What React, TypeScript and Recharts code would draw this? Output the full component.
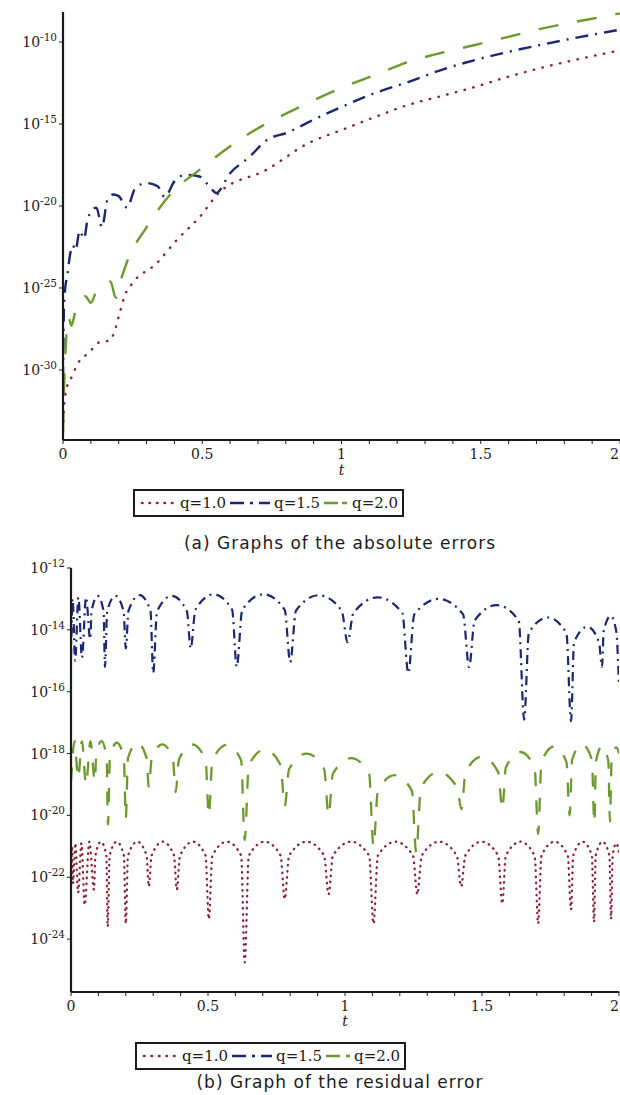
import { Label, Line, LineChart, XAxis, YAxis } from 'recharts';

// exponents (log10 of the error)
const X_TICKS = [0, 0.1, 0.2, 0.3, 0.4, 0.5, 0.6, 0.7, 0.8, 0.9, 1, 1.1, 1.2, 1.3, 1.4, 1.5, 1.6, 1.7, 1.8, 1.9, 2];
const X_LABELS = [0, 0.5, 1, 1.5, 2];
const ABS_Y_TICKS = [-30, -25, -20, -15, -10];
const RES_Y_TICKS = [-24, -22, -20, -18, -16, -14, -12];
const SERIES_NAMES = ['q=1.0', 'q=1.5', 'q=2.0'];
const CAPTIONS = ['(a) Graphs of the absolute errors', '(b) Graph of the residual error'];

type Pt = [number, number];

const ABS_Q10: Pt[] = [
  [0, -33.7], [0.005, -32], [0.015, -31], [0.032, -30.4], [0.05, -29.7], [0.096, -28.9],
  [0.132, -28.3], [0.168, -28.2], [0.186, -27.6], [0.204, -26.5], [0.221, -25.5], [0.25, -24.7],
  [0.336, -23.5], [0.407, -22.1], [0.489, -20.7], [0.56, -19.2], [0.73, -17.8], [0.882, -16.16],
  [1.0, -15.37], [1.121, -14.57], [1.239, -13.84], [1.357, -13.3], [1.479, -12.74], [1.596, -12.13],
  [1.714, -11.59], [1.836, -11.1], [1.954, -10.67], [2.0, -10.5],
];

const ABS_Q15: Pt[] = [
  [0, -30.6], [0.003, -26.5], [0.008, -25], [0.015, -24.3], [0.025, -23], [0.035, -22.4],
  [0.045, -22.7], [0.06, -21.5], [0.075, -22], [0.09, -20.7], [0.12, -20.1], [0.14, -21.3],
  [0.16, -19.6], [0.18, -19.3], [0.2, -19.4], [0.23, -20.1], [0.26, -18.9], [0.3, -18.6],
  [0.34, -18.8], [0.365, -19.45], [0.4, -18.5], [0.44, -18.1], [0.49, -18.2], [0.53, -18.9],
  [0.55, -19.2], [0.6, -18.0], [0.67, -17.0], [0.73, -16.0], [0.81, -15.5], [0.88, -14.9],
  [1.0, -13.96], [1.121, -13.11], [1.239, -12.44], [1.357, -11.71], [1.479, -11.1], [1.596, -10.61],
  [1.714, -10.18], [1.836, -9.76], [1.954, -9.39], [2.0, -9.25],
];

const ABS_Q20: Pt[] = [
  [0, -33.8], [0.004, -31], [0.01, -28.5], [0.02, -26.8], [0.03, -27.3], [0.045, -26.4],
  [0.06, -26.0], [0.08, -25.5], [0.1, -25.9], [0.12, -25.2], [0.15, -24.9], [0.17, -24.6],
  [0.19, -25.6], [0.21, -24.4], [0.23, -23.4], [0.3, -21.3], [0.39, -19.2], [0.49, -17.8],
  [0.63, -16.0], [0.88, -13.72], [1.0, -12.8], [1.121, -12.0], [1.239, -11.22], [1.357, -10.67],
  [1.479, -10.18], [1.596, -9.7], [1.714, -9.2], [1.836, -8.78], [1.954, -8.41], [2.0, -8.25],
];

const RES_Q10: Pt[] = [
  [0, -22.3], [0.004, -21.0], [0.007, -22.2], [0.016, -20.9], [0.026, -22.5], [0.038, -20.9],
  [0.05, -22.9], [0.067, -20.85], [0.084, -22.4], [0.089, -21.3], [0.109, -20.85], [0.129, -21.3],
  [0.134, -23.6], [0.141, -21.3], [0.167, -20.85], [0.193, -21.3], [0.2, -23.5], [0.208, -21.3],
  [0.242, -20.85], [0.276, -21.3], [0.284, -22.3], [0.294, -21.3], [0.335, -20.85], [0.376, -21.3],
  [0.386, -22.4], [0.398, -21.3], [0.445, -20.85], [0.491, -21.3], [0.503, -23.35], [0.516, -21.3],
  [0.569, -20.85], [0.621, -21.3], [0.634, -24.75], [0.649, -21.3], [0.707, -20.85], [0.765, -21.3],
  [0.78, -22.7], [0.796, -21.3], [0.86, -20.85], [0.924, -21.3], [0.94, -22.55], [0.956, -21.3],
  [1.022, -20.85], [1.088, -21.3], [1.104, -23.5], [1.12, -21.3], [1.184, -20.85], [1.248, -21.3],
  [1.264, -22.55], [1.28, -21.3], [1.344, -20.85], [1.408, -21.3], [1.424, -22.3], [1.439, -21.3],
  [1.499, -20.85], [1.559, -21.3], [1.574, -22.85], [1.587, -21.3], [1.64, -20.85], [1.692, -21.3],
  [1.705, -23.5], [1.717, -21.3], [1.765, -20.85], [1.813, -21.3], [1.825, -23.05], [1.833, -21.3],
  [1.867, -20.85], [1.901, -21.3], [1.909, -23.45], [1.915, -21.3], [1.94, -20.85], [1.965, -21.3],
  [1.971, -23.35], [1.977, -21.3], [1.99, -20.9], [2.0, -21.2],
];

const RES_Q15: Pt[] = [
  [0, -14.9], [0.006, -13.0], [0.015, -15.0], [0.027, -12.95], [0.04, -14.9], [0.055, -12.95],
  [0.07, -14.3], [0.075, -13.4], [0.097, -12.9], [0.119, -13.4], [0.124, -15.2], [0.132, -13.4],
  [0.162, -12.9], [0.192, -13.4], [0.2, -14.6], [0.21, -13.38], [0.25, -12.88], [0.29, -13.38],
  [0.3, -15.4], [0.314, -13.4], [0.368, -12.9], [0.423, -13.4], [0.437, -14.6], [0.454, -13.35],
  [0.521, -12.85], [0.588, -13.35], [0.605, -15.2], [0.625, -13.35], [0.702, -12.85], [0.78, -13.35],
  [0.8, -15.05], [0.821, -13.38], [0.904, -12.88], [0.988, -13.38], [1.009, -14.4], [1.031, -13.45],
  [1.12, -12.95], [1.209, -13.45], [1.231, -15.4], [1.253, -13.5], [1.342, -13.0], [1.431, -13.5],
  [1.453, -15.2], [1.473, -13.7], [1.553, -13.2], [1.634, -13.7], [1.654, -16.9], [1.671, -14.1],
  [1.74, -13.6], [1.808, -14.1], [1.825, -16.95], [1.836, -14.4], [1.885, -13.9], [1.927, -14.4],
  [1.938, -15.2], [1.944, -14.05], [1.97, -13.55], [1.99, -14.05], [2.0, -15.8],
];

const RES_Q20: Pt[] = [
  [0, -18.9], [0.013, -17.6], [0.026, -18.8], [0.04, -17.6], [0.055, -19.0], [0.071, -17.6],
  [0.087, -18.9], [0.092, -18.1], [0.111, -17.6], [0.13, -18.1], [0.135, -20.3], [0.142, -18.15],
  [0.167, -17.65], [0.193, -18.15], [0.2, -20.1], [0.208, -18.15], [0.242, -17.65], [0.276, -18.15],
  [0.284, -19.1], [0.294, -18.2], [0.333, -17.7], [0.372, -18.2], [0.382, -19.25], [0.394, -18.2],
  [0.442, -17.7], [0.491, -18.2], [0.503, -20.0], [0.516, -18.22], [0.569, -17.72], [0.621, -18.22],
  [0.634, -20.8], [0.649, -18.37], [0.707, -17.87], [0.765, -18.37], [0.78, -19.7], [0.796, -18.5],
  [0.86, -18.0], [0.924, -18.5], [0.94, -20.0], [0.956, -18.65], [1.022, -18.15], [1.088, -18.65],
  [1.104, -21.0], [1.12, -19.2], [1.182, -18.7], [1.244, -19.2], [1.26, -21.2], [1.277, -19.1],
  [1.342, -18.6], [1.409, -19.1], [1.425, -19.8], [1.44, -18.6], [1.5, -18.1], [1.559, -18.6],
  [1.574, -19.8], [1.587, -18.45], [1.64, -17.95], [1.692, -18.45], [1.705, -20.6], [1.717, -18.27],
  [1.763, -17.77], [1.808, -18.27], [1.82, -20.0], [1.829, -18.2], [1.865, -17.7], [1.901, -18.2],
  [1.91, -20.25], [1.916, -18.25], [1.939, -17.75], [1.961, -18.25], [1.967, -20.2], [1.973, -18.25],
  [1.99, -17.8], [2.0, -18.0],
];

const SERIF = "'DejaVu Serif', 'Liberation Serif', serif";
const CAPTION_FONT = "'DejaVu Sans', 'Noto Sans', sans-serif";
const INK = '#1b1b1b';
const RED = '#8a2435';
const BLUE = '#1b2770';
const GREEN = '#6d9a2f';
const PAGE_W = 620;

const rows = (pts: Pt[]) => pts.map(([t, v]) => ({ t, v }));

function PowTick({ x, y, payload }: any) {
  return (
    <text x={x} y={y} dy={5} textAnchor="end" fontFamily={SERIF} fontSize={14} fill={INK}>
      10<tspan dy={-6} fontSize={10.5}>{`-${Math.abs(payload.value)}`}</tspan>
    </text>
  );
}

function TTick({ x, y, payload }: any) {
  if (!X_LABELS.includes(payload.value)) return <g />;
  // the last label sits on the page edge; keep it inside
  const atEdge = x + 5 > PAGE_W;
  return (
    <text
      x={atEdge ? PAGE_W - 1 : x}
      y={y}
      dy={13}
      textAnchor={atEdge ? 'end' : 'middle'}
      fontFamily={SERIF}
      fontSize={14}
      fill={INK}
    >
      {String(payload.value)}
    </text>
  );
}

interface SeriesStyle {
  pts: Pt[];
  color: string;
  dash: string;
  cap: 'round' | 'butt';
  width: number;
}

interface PanelProps {
  height: number;
  top: number;
  left: number;
  right: number;
  bottom: number;
  labelOffset: number;
  yDomain: [number, number];
  yTicks: number[];
  series: SeriesStyle[];
}

function Panel({ height, top, left, right, bottom, labelOffset, yDomain, yTicks, series }: PanelProps) {
  return (
    <LineChart width={630} height={height} margin={{ top, right, left: 0, bottom: 0 }}>
      <XAxis
        type="number"
        dataKey="t"
        domain={[0, 2]}
        ticks={X_TICKS}
        interval={0}
        allowDataOverflow
        height={bottom}
        stroke={INK}
        strokeWidth={1.8}
        tickSize={4}
        tickLine={{ stroke: INK, strokeWidth: 1 }}
        tick={<TTick />}
      >
        <Label
          value="t"
          position="insideTop"
          offset={labelOffset}
          fontFamily={SERIF}
          fontStyle="italic"
          fontSize={14}
          fill={INK}
        />
      </XAxis>
      <YAxis
        type="number"
        dataKey="v"
        domain={yDomain}
        ticks={yTicks}
        interval={0}
        allowDataOverflow
        width={left}
        stroke={INK}
        strokeWidth={2.2}
        tickSize={4}
        tickLine={{ stroke: INK, strokeWidth: 1 }}
        tick={<PowTick />}
      />
      {series.map((s, i) => (
        <Line
          key={i}
          data={rows(s.pts)}
          dataKey="v"
          type="monotone"
          stroke={s.color}
          strokeWidth={s.width}
          strokeDasharray={s.dash}
          strokeLinecap={s.cap}
          dot={false}
          activeDot={false}
          isAnimationActive={false}
        />
      ))}
    </LineChart>
  );
}

function Sample({ w, color, dash, cap, width }: { w: number; color: string; dash: string; cap: 'round' | 'butt'; width: number }) {
  return (
    <svg width={w} height={12} style={{ display: 'block' }}>
      <line x1={cap === 'round' ? 2 : 0} y1={6} x2={w} y2={6} stroke={color} strokeWidth={width} strokeDasharray={dash} strokeLinecap={cap} />
    </svg>
  );
}

function LegendBox({ top, left, greenDash }: { top: number; left: number; greenDash: string }) {
  const text = { fontFamily: SERIF, fontSize: 15, color: INK, margin: '0 4px 0 4px' };
  return (
    <div
      style={{
        position: 'absolute',
        top,
        left,
        display: 'flex',
        alignItems: 'center',
        border: `2px solid ${INK}`,
        height: 24,
        padding: '0 0 0 5px',
        background: '#fff',
      }}
    >
      <Sample w={36} color={RED} dash="0.5 7" cap="round" width={2.6} />
      <span style={text}>{SERIES_NAMES[0]}</span>
      <Sample w={40} color={BLUE} dash="14 6 3 6" cap="butt" width={2.6} />
      <span style={text}>{SERIES_NAMES[1]}</span>
      <Sample w={24} color={GREEN} dash={greenDash} cap="butt" width={2.6} />
      <span style={text}>{SERIES_NAMES[2]}</span>
    </div>
  );
}

function Caption({ top, text }: { top: number; text: string }) {
  return (
    <div
      style={{
        position: 'absolute',
        top,
        left: 150,
        width: 380,
        textAlign: 'center',
        fontFamily: CAPTION_FONT,
        fontSize: 17,
        letterSpacing: 1,
        color: INK,
        whiteSpace: 'nowrap',
      }}
    >
      {text}
    </div>
  );
}

export default function App() {
  const absSeries: SeriesStyle[] = [
    { pts: ABS_Q10, color: RED, dash: '0.5 8.5', cap: 'round', width: 2.4 },
    { pts: ABS_Q15, color: BLUE, dash: '13 7 2 7', cap: 'butt', width: 2.4 },
    { pts: ABS_Q20, color: GREEN, dash: '20 19', cap: 'butt', width: 2.4 },
  ];
  const resSeries: SeriesStyle[] = [
    { pts: RES_Q10, color: RED, dash: '0.5 5.5', cap: 'round', width: 2.3 },
    { pts: RES_Q15, color: BLUE, dash: '9 5 2 5', cap: 'butt', width: 2.2 },
    { pts: RES_Q20, color: GREEN, dash: '14 14', cap: 'butt', width: 2.3 },
  ];
  return (
    <div
      style={{
        position: 'absolute',
        left: 0,
        top: 0,
        width: PAGE_W,
        height: 1095,
        overflow: 'hidden',
        background: '#fff',
      }}
    >
      <div style={{ position: 'absolute', left: 0, top: 0 }}>
        <Panel
          height={485}
          top={12}
          left={63}
          right={10}
          bottom={45}
          labelOffset={25}
          yDomain={[-34.27, -8.17]}
          yTicks={ABS_Y_TICKS}
          series={absSeries}
        />
      </div>
      <LegendBox top={489} left={133} greenDash="14 4 5 20" />
      <Caption top={533} text={CAPTIONS[0]} />
      <div style={{ position: 'absolute', left: 0, top: 557 }}>
        <Panel
          height={475}
          top={11}
          left={71}
          right={11}
          bottom={40}
          labelOffset={24}
          yDomain={[-25.71, -12]}
          yTicks={RES_Y_TICKS}
          series={resSeries}
        />
      </div>
      <LegendBox top={1042} left={135} greenDash="14 6 4 20" />
      <Caption top={1072} text={CAPTIONS[1]} />
    </div>
  );
}
